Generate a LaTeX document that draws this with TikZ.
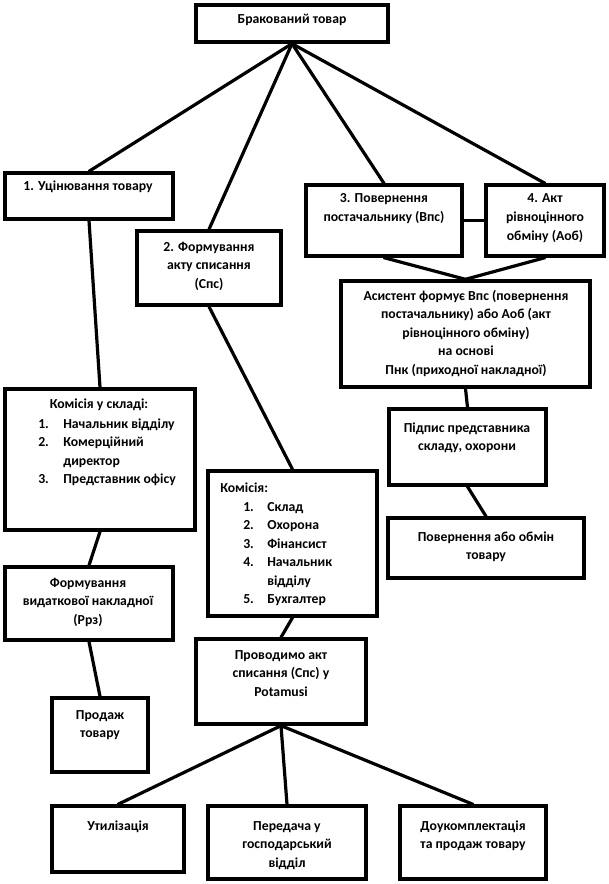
\documentclass[tikz,border=0pt]{standalone}
\usepackage{fontspec}
\setmainfont{Carlito}
\usetikzlibrary{fit}
\newcommand{\tl}[1]{\begin{tabular}[t]{@{}c@{}}#1\end{tabular}}
\begin{document}
\begin{tikzpicture}[x=0.75pt,y=-0.75pt,
  box/.style={draw, line width=2.5pt, inner sep=0pt, fill=none},
  link/.style={line width=2.4pt, line cap=round},
  txt/.style={inner sep=0pt, font=\fontsize{10.3}{13.9}\selectfont\bfseries, anchor=base},
  lst/.style={inner sep=0pt, font=\fontsize{10.3}{13.9}\selectfont\bfseries, anchor=base west}]
\useasboundingbox (0,0) rectangle (608,884);
% boxes
\node[box, fit={(196,5) (388,42)}] (top) {};
\node[box, fit={(5,173) (173,219)}] (b1) {};
\node[box, fit={(137,231) (281,305)}] (b2) {};
\node[box, fit={(306,185) (462,256)}] (b3) {};
\node[box, fit={(486,185) (604,256)}] (b4) {};
\node[box, fit={(341,281) (590,387)}] (asis) {};
\node[box, fit={(389,409) (546,485)}] (pid) {};
\node[box, fit={(388,518) (584,578)}] (pov) {};
\node[box, fit={(5,389) (195,530)}] (kom1) {};
\node[box, fit={(5,567) (173,640)}] (form) {};
\node[box, fit={(52,698) (148,772)}] (prod) {};
\node[box, fit={(208,471) (377,616)}] (kom2) {};
\node[box, fit={(196,639) (366,724)}] (prov) {};
\node[box, fit={(52,806) (184,872)}] (u) {};
\node[box, fit={(208,806) (366,879)}] (p) {};
\node[box, fit={(400,806) (546,879)}] (d) {};
% connectors
\draw[link] (top.south) -- (b1.north);
\draw[link] (top.south) -- (b2.north);
\draw[link] (top.south) -- (b3.north);
\draw[link] (top.south) -- (b4.north);
\draw[link] (b3.east) -- (b4.west);
\draw[link] (b3.south) -- (asis.north);
\draw[link] (b4.south) -- (asis.north);
\draw[link] (asis.south) -- (pid.north);
\draw[link] (pid.south) -- (pov.north);
\draw[link] (b1.south) -- (kom1.north);
\draw[link] (kom1.south) -- (form.north);
\draw[link] (form.south) -- (prod.north);
\draw[link] (b2.south) -- (kom2.north);
\draw[link] (kom2.south) -- (prov.north);
\draw[link] (prov.south) -- (u.north);
\draw[link] (prov.south) -- (p.north);
\draw[link] (prov.south) -- (d.north);
% texts
\node[txt] (ttop) at (292,24) {Бракований товар};
\node[txt] (tb1) at (88,191) {\tl{1. Уцінювання товару}};
\node[txt] (tb2) at (209,251) {\tl{2. Формування\\акту списання\\(Спс)}};
\node[txt] (tb3) at (384,203) {\tl{3. Повернення\\постачальнику (Впс)}};
\node[txt] (tb4) at (545,203) {\tl{4. Акт\\рівноцінного\\обміну (Аоб)}};
\node[txt] (tasis) at (466,300) {\tl{Асистент формує Впс (повернення\\постачальнику) або Аоб (акт\\рівноцінного обміну)\\на основі\\Пнк (приходної накладної)}};
\node[txt] (tpid) at (467,432) {\tl{Підпис представника\\складу, охорони}};
\node[txt] (tpov) at (486,541) {\tl{Повернення або обмін\\товару}};
\node[txt] (tk1h) at (99,408) {Комісія у складі:};
\node[lst] (tk1l) at (38,428) {\begin{tabular}[t]{@{}p{18.75pt}@{}l@{}}1. & Начальник відділу\\2. & Комерційний\\ & директор\\3. & Представник офісу\end{tabular}};
\node[txt] (tform) at (88,587) {\tl{Формування\\видаткової накладної\\(Ррз)}};
\node[txt] (tprod) at (100,719) {\tl{Продаж\\товару}};
\node[lst] (tk2h) at (220,492) {Комісія:};
\node[lst] (tk2l) at (243,511) {\begin{tabular}[t]{@{}p{18pt}@{}l@{}}1. & Склад\\2. & Охорона\\3. & Фінансист\\4. & Начальник\\ & відділу\\5. & Бухгалтер\end{tabular}};
\node[txt] (tprov) at (281,659) {\tl{Проводимо акт\\списання (Спс) у\\Potamusi}};
\node[txt] (tu) at (118,830) {Утилізація};
\node[txt] (tp) at (287,830) {\tl{Передача у\\господарський\\відділ}};
\node[txt] (td) at (473,830) {\tl{Доукомплектація\\та продаж товару}};
\end{tikzpicture}
\end{document}
